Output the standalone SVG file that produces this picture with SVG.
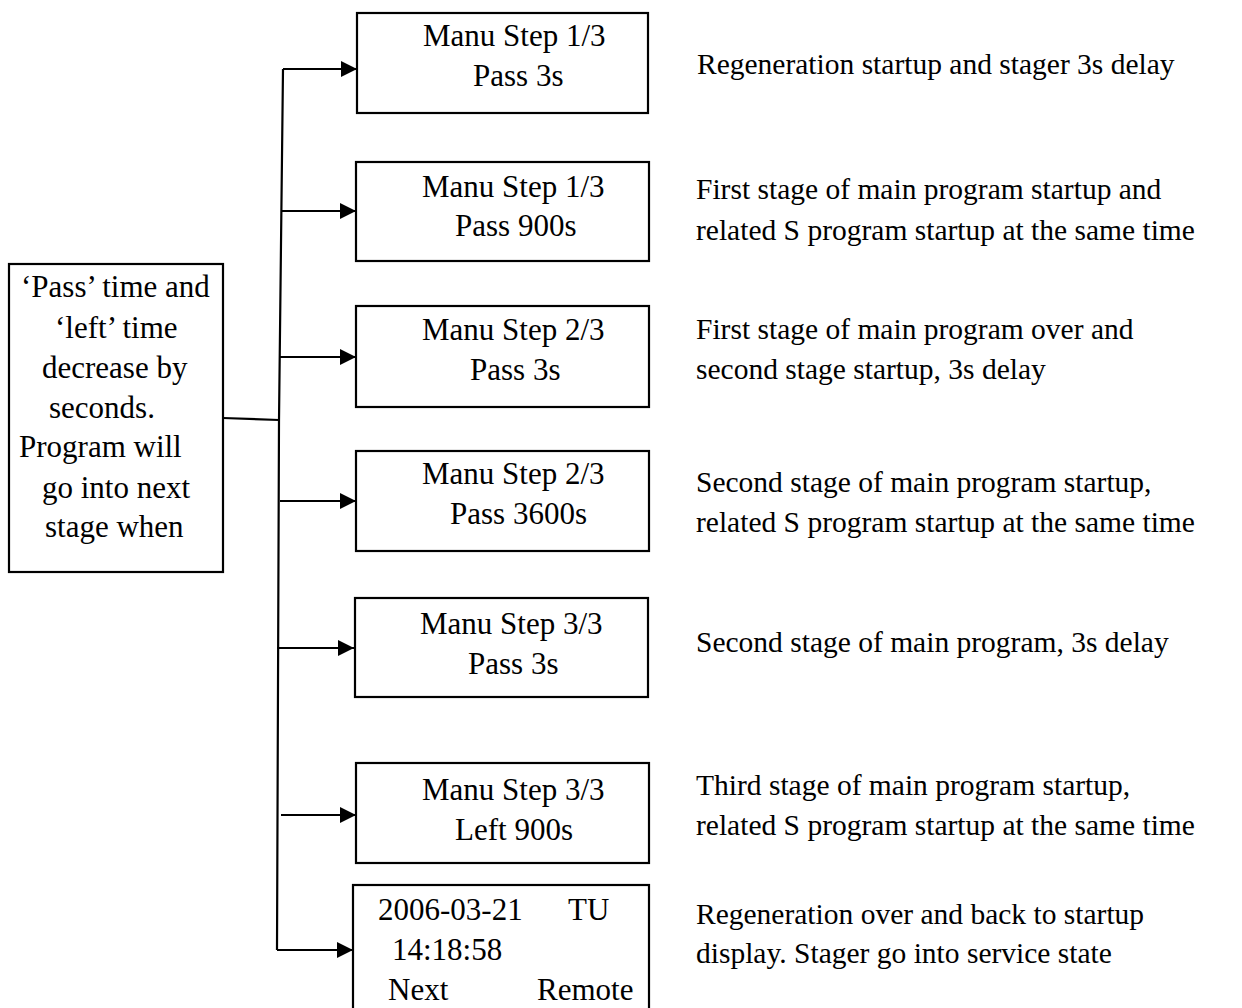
<svg xmlns="http://www.w3.org/2000/svg" width="1242" height="1008" viewBox="0 0 1242 1008">
<style>
text{font-family:"Liberation Serif","Times New Roman",serif;fill:#000}
.b{font-size:31px}
.d{font-size:29.5px}
.box{fill:#fff;stroke:#000;stroke-width:2.2}
.ln{fill:none;stroke:#000;stroke-width:2.2}
</style>
<defs>
<marker id="ah" markerUnits="userSpaceOnUse" markerWidth="18" markerHeight="18" refX="16" refY="8" orient="auto">
<path d="M0,0 L16,8 L0,16 Z" fill="#000"/>
</marker>
</defs>
<rect width="1242" height="1008" fill="#fff"/>
<g id="connectors">
<path class="ln" d="M223,418 L279,420"/>
<path class="ln" d="M283,69 L279,420 L277,950"/>
<path class="ln" d="M283,69 L357,69" marker-end="url(#ah)"/>
<path class="ln" d="M281,211 L356,211" marker-end="url(#ah)"/>
<path class="ln" d="M280,357 L356,357" marker-end="url(#ah)"/>
<path class="ln" d="M280,501 L356,501" marker-end="url(#ah)"/>
<path class="ln" d="M277,648 L354,648" marker-end="url(#ah)"/>
<path class="ln" d="M281,815 L356,815" marker-end="url(#ah)"/>
<path class="ln" d="M277,950 L353,950" marker-end="url(#ah)"/>
</g>
<g id="left">
<rect class="box" x="9" y="264" width="214" height="308"/>
<text class="b" x="21" y="297">‘Pass’ time and</text>
<text class="b" x="55" y="338">‘left’ time</text>
<text class="b" x="42" y="378">decrease by</text>
<text class="b" x="49" y="418">seconds.</text>
<text class="b" x="19" y="457">Program will</text>
<text class="b" x="42" y="498">go into next</text>
<text class="b" x="45" y="537">stage when</text>
</g>
<g id="n1">
<rect class="box" x="357" y="13" width="291" height="100"/>
<text class="b" x="423" y="46">Manu Step 1/3</text>
<text class="b" x="473" y="86">Pass 3s</text>
</g>
<g id="n2">
<rect class="box" x="356" y="162" width="293" height="99"/>
<text class="b" x="422" y="197">Manu Step 1/3</text>
<text class="b" x="455" y="236">Pass 900s</text>
</g>
<g id="n3">
<rect class="box" x="356" y="306" width="293" height="101"/>
<text class="b" x="422" y="340">Manu Step 2/3</text>
<text class="b" x="470" y="380">Pass 3s</text>
</g>
<g id="n4">
<rect class="box" x="356" y="451" width="293" height="100"/>
<text class="b" x="422" y="484">Manu Step 2/3</text>
<text class="b" x="450" y="524">Pass 3600s</text>
</g>
<g id="n5">
<rect class="box" x="355" y="598" width="293" height="99"/>
<text class="b" x="420" y="634">Manu Step 3/3</text>
<text class="b" x="468" y="674">Pass 3s</text>
</g>
<g id="n6">
<rect class="box" x="356" y="763" width="293" height="100"/>
<text class="b" x="422" y="800">Manu Step 3/3</text>
<text class="b" x="455" y="840">Left 900s</text>
</g>
<g id="n7">
<rect class="box" x="353" y="885" width="296" height="140"/>
<text class="b" x="378" y="920">2006-03-21</text>
<text class="b" x="568" y="920">TU</text>
<text class="b" x="392" y="960">14:18:58</text>
<text class="b" x="388" y="1000">Next</text>
<text class="b" x="537" y="1000">Remote</text>
</g>
<g id="descriptions">
<text class="d" x="697" y="74">Regeneration startup and stager 3s delay</text>
<text class="d" x="696" y="199">First stage of main program startup and</text>
<text class="d" x="696" y="240">related S program startup at the same time</text>
<text class="d" x="696" y="339">First stage of main program over and</text>
<text class="d" x="696" y="379">second stage startup, 3s delay</text>
<text class="d" x="696" y="492">Second stage of main program startup,</text>
<text class="d" x="696" y="532">related S program startup at the same time</text>
<text class="d" x="696" y="652">Second stage of main program, 3s delay</text>
<text class="d" x="696" y="795">Third stage of main program startup,</text>
<text class="d" x="696" y="835">related S program startup at the same time</text>
<text class="d" x="696" y="924">Regeneration over and back to startup</text>
<text class="d" x="696" y="963">display. Stager go into service state</text>
</g>
</svg>
